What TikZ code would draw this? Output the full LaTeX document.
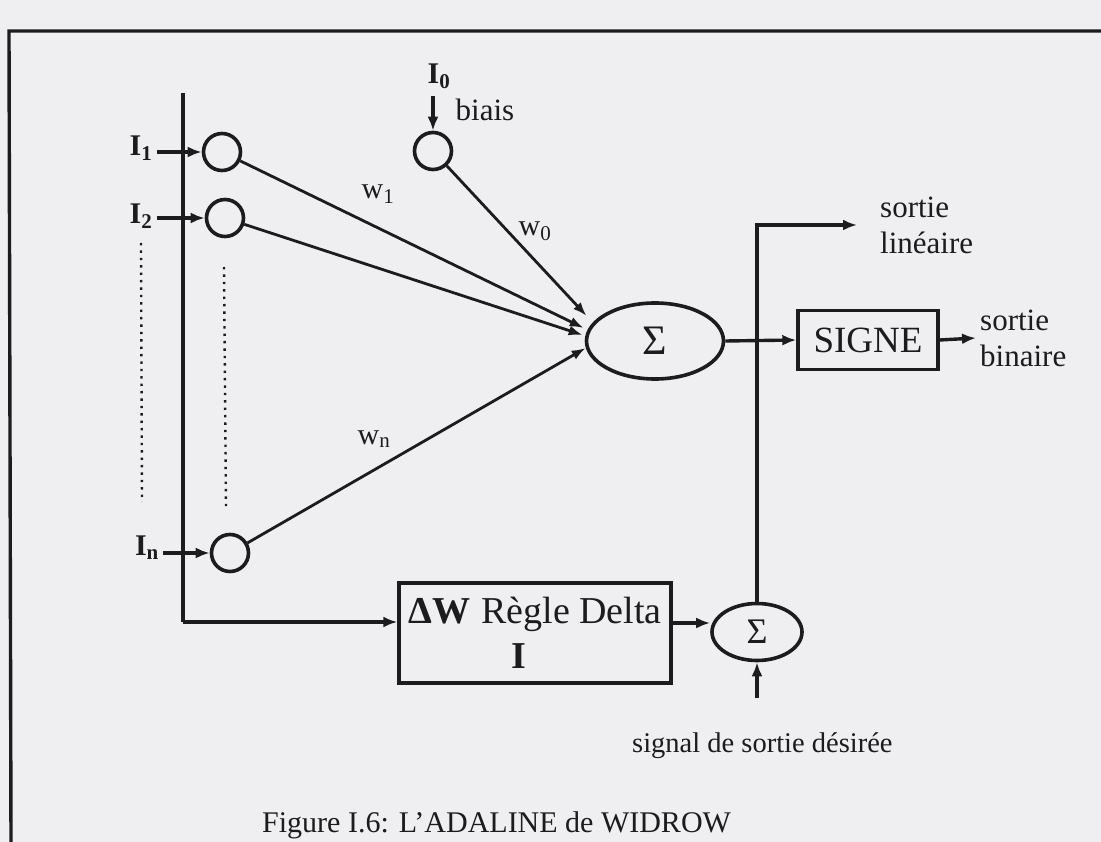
\documentclass[tikz,border=0pt]{standalone}
\usepackage{fontspec}
\setmainfont{Liberation Serif}
\usetikzlibrary{arrows.meta,shapes.geometric,calc}
\definecolor{ink}{RGB}{28,28,30}
\definecolor{paper}{RGB}{239,239,242}
\begin{document}
\begin{tikzpicture}[x=1pt,y=-1pt,
  wire/.style={draw=ink, line width=3.4pt},
  arr/.style={wire, -{Latex[length=14pt,width=11pt]}},
  thinarr/.style={draw=ink, line width=2.8pt, -{Latex[length=14pt,width=10pt]}},
  neuron/.style={circle, draw=ink, line width=3.6pt, minimum size=37pt, inner sep=0pt},
  sumnode/.style={ellipse, draw=ink, line width=3.6pt, inner sep=0pt},
  blockbox/.style={rectangle, draw=ink, line width=3.4pt, inner sep=0pt},
  inlab/.style={font=\fontsize{30}{32}\selectfont, text=ink, inner sep=0pt},
  txt/.style={font=\fontsize{31}{36}\selectfont, text=ink, inner sep=0pt, align=left},
  dots/.style={draw=ink, line width=2.4pt, dash pattern=on 2.4pt off 5pt}
]
\useasboundingbox (0,0) rectangle (1101,842);
\fill[paper] (0,0) rectangle (1101,842);
% frame
\draw[ink, line width=3.4pt] (1101,31) -- (9,31) -- (11,842);

% bus
\coordinate (bustop) at (183,93);
\coordinate (buscorner) at (183,622);

% neurons
\node[neuron] (c1) at (222,152) {};
\node[neuron] (c2) at (225,218) {};
\node[neuron] (c0) at (433,151) {};
\node[neuron] (cn) at (230,553) {};

% input labels
\node[inlab] (I1) at (141,148) {\textbf{I\textsubscript{1}}};
\node[inlab] (I2) at (141,216) {\textbf{I\textsubscript{2}}};
\node[inlab] (In) at (147,548) {\textbf{I\textsubscript{n}}};
\node[inlab] (I0) at (439,76) {\textbf{I\textsubscript{0}}};
\node[txt] (biais) at (485,110) {biais};

% dotted lines
\draw[dots] (141,243) -- (142,502);
\draw[dots] (224,267) -- (226,508);

% sum node
\node[sumnode, minimum width=137pt, minimum height=76pt, font=\fontsize{42}{42}\selectfont, text=ink] (S) at (655,341) {Σ};

% bus line and arrows
\draw[wire] (bustop) -- (buscorner);
\draw[arr] ([xshift=4pt]I1.east |- c1.west) -- (c1.west);
\draw[arr] ([xshift=4pt]I2.east |- c2.west) -- (c2.west);
\draw[arr] ([xshift=4pt]In.east |- cn.west) -- (cn.west);
\coordinate (b0) at (433,96);
\draw[arr] (b0) -- (c0.north);

% weight lines
\draw[thinarr] (c0) -- ($(S.west)+(2,-25)$);
\draw[thinarr] (c1) -- ($(S.west)+(-1,-13)$);
\draw[thinarr] (c2) -- ($(S.west)+(-2,-6)$);
\draw[thinarr] (cn) -- ($(S.west)+(1,7)$);
\node[inlab] (w1) at (378,194) {w\textsubscript{1}};
\node[inlab] (w0) at (535,231) {w\textsubscript{0}};
\node[inlab] (wn) at (374,439) {w\textsubscript{n}};

% SIGNE block
\node[blockbox, minimum width=140pt, minimum height=59pt, font=\fontsize{37}{37}\selectfont, text=ink] (sg) at (868,340) {SIGNE};
\draw[arr] (S.east) -- (sg.west);
\node[txt, anchor=west] (sb) at (980,338) {sortie\\binaire};
\draw[arr] (sg.east) -- ([xshift=-4pt]sb.west);

% delta rule block
\node[blockbox, minimum width=272pt, minimum height=100pt, font=\fontsize{38}{45}\selectfont, align=center, text=ink] (dw) at (535,633) {\textbf{ΔW}\hspace{0.3em}Règle Delta\\\makebox[48pt][l]{\textbf{I}}};
\draw[arr] (buscorner) -- (buscorner -| dw.west);

% second sum
\node[sumnode, minimum width=90pt, minimum height=57pt, font=\fontsize{36}{36}\selectfont, text=ink] (S2) at (757,632) {Σ};
\draw[arr] (dw.east |- 0,623) -- (S2.west |- 0,623);

% linear output
\coordinate (lin) at (857,225);
\draw[arr] (S2.north) |- (lin);
\node[txt, anchor=west] (sl) at (880,225) {sortie\\linéaire};

% desired signal
\coordinate (d0) at (757,698);
\draw[arr] (d0) -- (S2.south);
\node[anchor=base west, inner sep=0pt, text=ink, font=\fontsize{28.5}{30}\selectfont] (sig) at (632,752) {signal de sortie désirée};

% caption
\node[anchor=base west, inner sep=0pt, text=ink, font=\fontsize{30}{30}\selectfont] (cap) at (262,832) {Figure I.6: L’ADALINE de WIDROW};
\end{tikzpicture}
\end{document}
